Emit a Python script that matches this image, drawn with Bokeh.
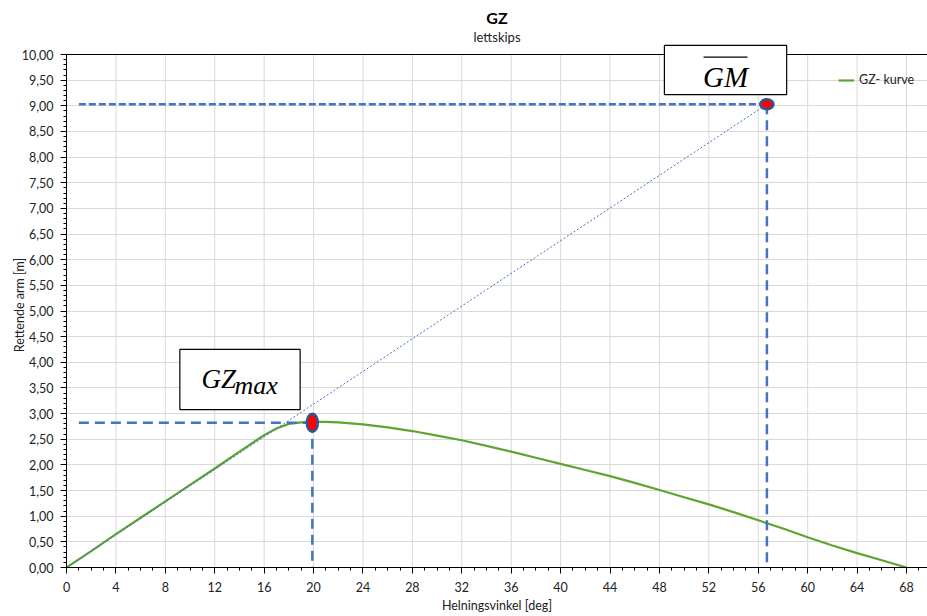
from bokeh.plotting import figure
from bokeh.models import (Range1d, SingleIntervalTicker, CustomJSTickFormatter, Label, Title,
                          Arrow, Span, Legend, LegendItem)
from bokeh.embed import file_html
from bokeh.resources import INLINE

# ---- data ----
angles = [0, 2, 4, 6, 8, 10, 12, 14, 16, 17, 18, 19, 20, 21, 22, 24, 26, 28, 30, 32, 34,
          36, 38, 40, 42, 44, 46, 48, 50, 52, 54, 56, 58, 60, 62, 64, 66, 68]
gz = [0.00, 0.32, 0.65, 0.97, 1.29, 1.61, 1.93, 2.26, 2.58, 2.71, 2.80, 2.83, 2.84, 2.84,
      2.83, 2.79, 2.73, 2.66, 2.57, 2.48, 2.37, 2.26, 2.14, 2.02, 1.90, 1.78, 1.65, 1.51,
      1.37, 1.23, 1.08, 0.92, 0.76, 0.59, 0.43, 0.28, 0.14, 0.00]
gzmax_angle = 19.9
gzmax_value = 2.82
gm_angle = 56.7
gm_value = 9.03
x_ticks = [0, 4, 8, 12, 16, 20, 24, 28, 32, 36, 40, 44, 48, 52, 56, 60, 64, 68]
y_max = 10.0
series_name = "GZ- kurve"
title_text = "GZ"
subtitle_text = "lettskips"
x_title = "Helningsvinkel [deg]"
y_title = "Rettende arm [m]"

BLUE = "#4472C4"
DARKBLUE = "#2F5597"
GREEN = "#5EA530"
GRID = "#d9d9d9"
FONT = "Lato"
MATH = "Liberation Serif"
FS = "12.5px"

p = figure(width=927, height=616, x_range=Range1d(0, 69.7), y_range=Range1d(0, 10.234),
           output_backend="svg", toolbar_location=None,
           min_border_left=66, min_border_right=0, min_border_top=42, min_border_bottom=49)
p.outline_line_color = None
p.background_fill_color = "white"

# titles (p.title is the outer one)
p.title = Title(text=title_text, align="center", text_font=FONT, text_font_size="16px",
                text_font_style="bold", text_color="#000000", standoff=3, offset=5)
p.add_layout(Title(text=subtitle_text, align="center", text_font=FONT, text_font_size="13px",
                   text_font_style="normal", text_color="#222222", standoff=-4, offset=5), "above")

# axes
for ax in (p.xaxis[0], p.yaxis[0]):
    ax.axis_line_color = "#000000"
    ax.major_tick_line_color = "#000000"
    ax.minor_tick_line_color = "#000000"
    ax.major_tick_in = 0
    ax.minor_tick_in = 0
    ax.major_tick_out = 6
    ax.minor_tick_out = 3
    ax.major_label_text_font = FONT
    ax.major_label_text_font_size = FS
    ax.major_label_text_color = "#222222"
    ax.axis_label_text_font = FONT
    ax.axis_label_text_font_size = FS
    ax.axis_label_text_font_style = "normal"
    ax.axis_label_text_color = "#222222"

p.xaxis[0].ticker = SingleIntervalTicker(interval=4, num_minor_ticks=4)
p.yaxis[0].ticker = SingleIntervalTicker(interval=0.5, num_minor_ticks=5)
p.yaxis[0].bounds = (0, y_max)
p.yaxis[0].formatter = CustomJSTickFormatter(code="return tick.toFixed(2).replace('.', ',');")
p.xaxis[0].axis_label = x_title
p.yaxis[0].axis_label = y_title
p.xaxis[0].major_label_standoff = 8
p.xaxis[0].axis_label_standoff = 3
p.yaxis[0].major_label_standoff = 7
p.yaxis[0].axis_label_standoff = -8

p.xgrid.visible = False
p.ygrid.grid_line_color = GRID
p.ygrid.ticker = p.yaxis[0].ticker
# vertical grid lines, stopping at the top of the value axis
p.segment(x0=x_ticks, y0=[0] * len(x_ticks), x1=x_ticks, y1=[y_max] * len(x_ticks),
          line_color=GRID, line_width=1)

# top border of the plot area
p.add_layout(Span(location=y_max, dimension="width", line_color="black", line_width=1.2))

# GZ curve
curve = p.line(angles, gz, line_color=GREEN, line_width=2.2)

# tangent (GM) line
p.line([0, gm_angle], [0, gm_value], line_color=BLUE, line_width=1, line_dash="2 2")

# dashed helper lines
p.line([1, gzmax_angle], [gzmax_value, gzmax_value], line_color=BLUE, line_width=2.5, line_dash="10 6")
p.line([gzmax_angle, gzmax_angle], [gzmax_value, 0], line_color=BLUE, line_width=2.5, line_dash="10 6")
p.line([1, gm_angle], [gm_value, gm_value], line_color=BLUE, line_width=2.5, line_dash="7 3")
p.line([gm_angle, gm_angle], [gm_value, 0], line_color=BLUE, line_width=2.5, line_dash="10 6")

# markers
p.ellipse([gzmax_angle], [gzmax_value], width=11, height=18, width_units="screen",
          height_units="screen", fill_color="#FF0000", line_color=DARKBLUE, line_width=2.5)
p.ellipse([gm_angle], [gm_value], width=13, height=10, width_units="screen",
          height_units="screen", fill_color="#FF0000", line_color=DARKBLUE, line_width=2.5)

# annotation boxes (frames) and their math-style texts
def frame_box(x, y, w, h):
    return Label(x=x, y=y, text=" ", text_font_size="1px", text_align="center",
                 text_baseline="middle", background_fill_color="white",
                 border_line_color="black", border_line_width=1.2,
                 padding=dict(left=w // 2, right=w - w // 2, top=h // 2, bottom=h - h // 2))

p.add_layout(frame_box(53.35, 9.698, 122, 48))
p.add_layout(Label(x=53.35, y=9.571, text="GM", text_font=MATH, text_font_style="italic",
                   text_font_size="29px", text_align="center", text_baseline="alphabetic",
                   text_color="#000000"))
over = Arrow(x_start=51.57, y_start=9.95, x_end=55.13, y_end=9.95, end=None,
             line_color="black", line_width=1.2)
over.level = "overlay"
p.add_layout(over)

p.add_layout(frame_box(14.045, 3.665, 120, 59))
p.add_layout(Label(x=10.93, y=3.684, text="GZ", text_font=MATH, text_font_style="italic",
                   text_font_size="27px", text_align="left", text_baseline="alphabetic",
                   text_color="#000000"))
p.add_layout(Label(x=13.60, y=3.548, text="max", text_font=MATH, text_font_style="italic",
                   text_font_size="26px", text_align="left", text_baseline="alphabetic",
                   text_color="#000000"))

legend = Legend(items=[LegendItem(label=series_name, renderers=[curve])], location=(772, 480),
                glyph_width=16, glyph_height=14, label_standoff=5, padding=0, margin=0,
                border_line_color=None, background_fill_alpha=0,
                label_text_font=FONT, label_text_font_size=FS, label_text_color="#222222")
p.add_layout(legend)

open("out.html", "w").write(file_html(p, INLINE))
